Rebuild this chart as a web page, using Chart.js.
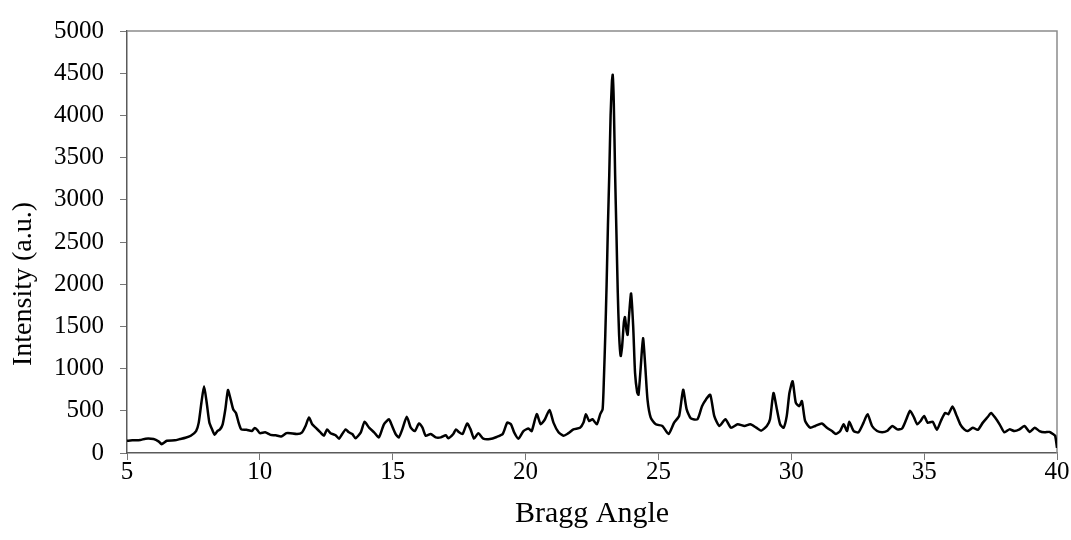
<!DOCTYPE html>
<html>
<head>
<meta charset="utf-8">
<script src="https://cdn.jsdelivr.net/npm/chart.js@4.4.1/dist/chart.umd.min.js"></script>
<style>
  html, body { margin: 0; padding: 0; background: #fff; }
</style>
</head>
<body>
<canvas id="xrdChart" width="1071" height="540"></canvas>
<script>
// diffraction pattern
const angles = [
  5.0, 5.2, 5.5, 5.7, 6.0, 6.2, 6.3, 6.5, 6.8, 7.0, 7.2, 7.4, 7.6, 7.7, 7.8, 7.9, 8.0, 8.1, 8.2, 8.3,
  8.4, 8.5, 8.6, 8.7, 8.8, 8.9, 9.0, 9.1, 9.2, 9.3, 9.5, 9.7, 9.8, 9.9, 10.0, 10.2, 10.4, 10.6, 10.8, 11.0,
  11.15, 11.4, 11.59, 11.72, 11.85, 11.97, 12.1, 12.28, 12.41, 12.53, 12.66, 12.85, 12.98, 13.1, 13.23, 13.35, 13.48, 13.6, 13.8, 13.94,
  14.11, 14.3, 14.48, 14.67, 14.86, 14.95, 15.11, 15.23, 15.36, 15.53, 15.68, 15.83, 15.99, 16.12, 16.24, 16.43, 16.62, 16.81, 17.0, 17.09,
  17.28, 17.38, 17.5, 17.63, 17.8, 17.93, 18.06, 18.22, 18.41, 18.66, 18.91, 19.14, 19.31, 19.45, 19.57, 19.73, 19.92, 20.11, 20.23, 20.42,
  20.57, 20.73, 20.9, 21.05, 21.24, 21.43, 21.61, 21.8, 22.05, 22.18, 22.27, 22.39, 22.52, 22.68, 22.81, 22.9, 22.95, 23.0, 23.05, 23.1,
  23.15, 23.2, 23.25, 23.28, 23.32, 23.37, 23.42, 23.47, 23.52, 23.58, 23.63, 23.7, 23.74, 23.8, 23.84, 23.9, 23.97, 24.05, 24.12, 24.2,
  24.25, 24.33, 24.42, 24.5, 24.59, 24.71, 24.9, 25.15, 25.38, 25.59, 25.78, 25.93, 26.06, 26.22, 26.47, 26.64, 26.79, 26.95, 27.1, 27.29,
  27.52, 27.73, 27.98, 28.24, 28.46, 28.68, 28.87, 29.08, 29.2, 29.33, 29.46, 29.58, 29.71, 29.83, 29.93, 30.05, 30.17, 30.3, 30.4, 30.52,
  30.71, 30.9, 31.15, 31.34, 31.53, 31.68, 31.84, 31.97, 32.1, 32.18, 32.35, 32.53, 32.72, 32.87, 33.04, 33.23, 33.42, 33.6, 33.8, 33.99,
  34.17, 34.33, 34.47, 34.62, 34.74, 34.87, 35.0, 35.13, 35.32, 35.48, 35.63, 35.79, 35.91, 36.07, 36.2, 36.36, 36.51, 36.64, 36.83, 37.02,
  37.21, 37.4, 37.52, 37.67, 37.84, 38.02, 38.21, 38.4, 38.59, 38.78, 38.97, 39.16, 39.34, 39.53, 39.72, 39.85, 39.93, 40.0
];
const intensities = [
  145, 150, 155, 170, 165, 135, 105, 145, 150, 165, 180, 205, 260, 360, 595, 790, 595, 360, 280, 215,
  260, 280, 340, 515, 745, 635, 515, 475, 360, 280, 275, 260, 295, 275, 235, 245, 215, 210, 195, 235,
  235, 225, 245, 320, 420, 340, 300, 245, 205, 280, 235, 210, 170, 225, 280, 245, 225, 175, 245, 370,
  300, 245, 185, 340, 400, 340, 225, 185, 280, 430, 300, 260, 350, 300, 205, 225, 185, 185, 210, 175,
  225, 280, 245, 225, 350, 280, 170, 235, 170, 165, 190, 225, 360, 340, 245, 170, 260, 290, 260, 460,
  340, 400, 510, 360, 245, 205, 235, 280, 300, 360, 460, 380, 400, 340, 460, 520, 900, 1400, 2000, 2700,
  3300, 4000, 4400, 4480, 4150, 3300, 2600, 1900, 1400, 1150, 1250, 1550, 1610, 1450, 1400, 1650, 1890, 1500, 950, 720,
  690, 1000, 1360, 1050, 630, 420, 340, 320, 225, 360, 440, 750, 520, 410, 400, 555, 635, 690, 440, 320,
  400, 300, 340, 320, 340, 300, 265, 320, 400, 710, 515, 340, 300, 440, 710, 850, 595, 555, 615, 380,
  300, 320, 350, 300, 260, 225, 260, 340, 260, 370, 260, 245, 360, 460, 320, 260, 245, 260, 320, 280,
  290, 400, 500, 420, 340, 380, 440, 360, 370, 275, 380, 475, 460, 550, 460, 340, 280, 260, 300, 275,
  360, 430, 475, 420, 340, 245, 280, 260, 280, 320, 250, 300, 260, 245, 250, 225, 205, 60
];
const xTicks = [5, 10, 15, 20, 25, 30, 35, 40];
const yTicks = [0, 500, 1000, 1500, 2000, 2500, 3000, 3500, 4000, 4500, 5000];

const serif = 'Liberation Serif, Times New Roman, serif';

// gray box round the plot, like the spreadsheet original
const plotFrame = {
  id: 'plotFrame',
  beforeDatasetsDraw(chart) {
    const { ctx, chartArea: a } = chart;
    ctx.save();
    ctx.strokeStyle = '#8c8c8c';
    ctx.lineWidth = 1.5;
    ctx.beginPath();
    ctx.moveTo(a.left, a.top);
    ctx.lineTo(a.right, a.top);
    ctx.lineTo(a.right, a.bottom);
    ctx.stroke();
    ctx.restore();
  }
};

// y title sits a bit below the middle of the axis in the original
const yTitle = {
  id: 'yTitle',
  afterDraw(chart) {
    const ctx = chart.ctx;
    ctx.save();
    ctx.translate(24, 284);
    ctx.rotate(-Math.PI / 2);
    ctx.font = '28px ' + serif;
    ctx.fillStyle = '#000';
    ctx.textAlign = 'center';
    ctx.textBaseline = 'middle';
    ctx.fillText('Intensity (a.u.)', 0, 0);
    ctx.restore();
  }
};

const points = angles.map((a, i) => ({ x: a, y: intensities[i] }));

new Chart(document.getElementById('xrdChart'), {
  type: 'line',
  data: {
    datasets: [{
      label: 'Intensity',
      data: points,
      borderColor: '#000',
      borderWidth: 2.5,
      pointRadius: 0,
      tension: 0.2,
      fill: false
    }]
  },
  options: {
    responsive: false,
    animation: false,
    devicePixelRatio: 1,
    layout: { padding: { top: 28, right: 14, bottom: 0, left: 0 } },
    plugins: { legend: { display: false }, tooltip: { enabled: false } },
    scales: {
      x: {
        type: 'linear',
        min: 5,
        max: 40,
        afterBuildTicks: s => { s.ticks = xTicks.map(v => ({ value: v })); },
        afterFit: s => { s.height = 87; },
        grid: { drawOnChartArea: false, drawTicks: true, tickLength: 7, color: '#777' },
        border: { color: '#5a5a5a', width: 1.5 },
        ticks: { color: '#000', padding: -3, maxRotation: 0, callback: v => String(v), font: { family: serif, size: 25 } },
        title: { display: true, text: 'Bragg Angle', color: '#000', padding: { top: 0, bottom: 8 }, font: { family: serif, size: 30 } }
      },
      y: {
        min: 0,
        max: 5000,
        afterBuildTicks: s => { s.ticks = yTicks.map(v => ({ value: v })); },
        afterFit: s => { s.width = 127; },
        grid: { drawOnChartArea: false, drawTicks: true, tickLength: 7, color: '#777' },
        border: { color: '#5a5a5a', width: 1.5 },
        ticks: { color: '#000', padding: 16, callback: v => String(v), font: { family: serif, size: 25 } }
      }
    }
  },
  plugins: [plotFrame, yTitle]
});
</script>
</body>
</html>
